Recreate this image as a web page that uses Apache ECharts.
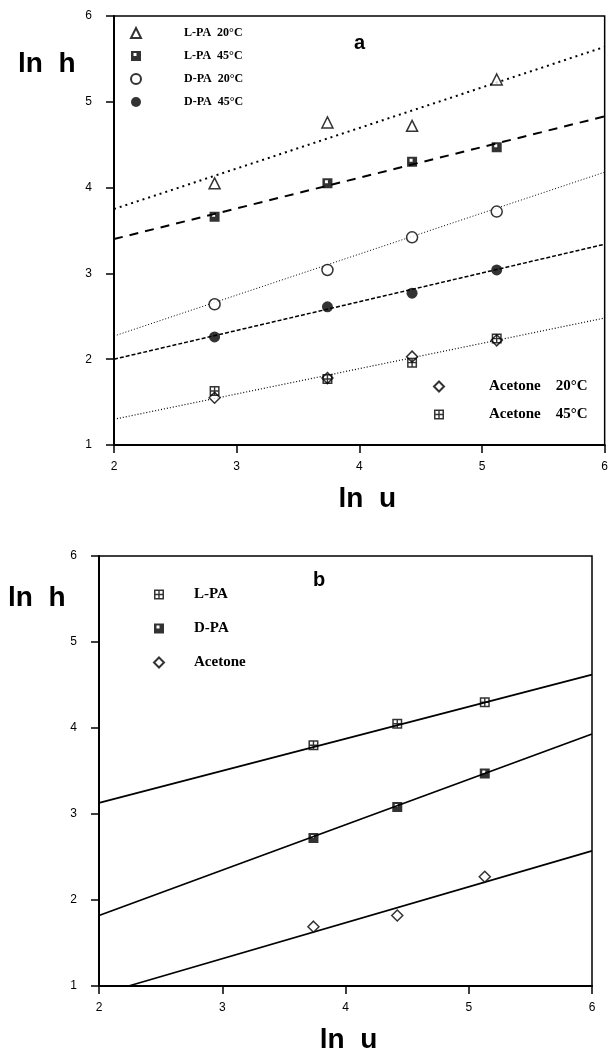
<!DOCTYPE html>
<html>
<head>
<meta charset="utf-8">
<script src="https://cdn.jsdelivr.net/npm/echarts@6/dist/echarts.min.js"></script>
<style>
  html, body { margin: 0; padding: 0; background: #fff; }
  #main { width: 611px; height: 1055px; }
</style>
</head>
<body>
<div id="main"></div>
<script>
// panel a: ln u and ln h readings
var lnU = [2.82, 3.74, 4.43, 5.12];
var lpa20 = [4.05, 4.76, 4.72, 5.26];
var lpa45 = [3.66, 4.05, 4.30, 4.47];
var dpa20 = [2.64, 3.04, 3.42, 3.72];
var dpa45 = [2.26, 2.61, 2.77, 3.04];
var ace20 = [1.55, 1.78, 2.03, 2.22];
var ace45 = [1.63, 1.77, 1.96, 2.24];
// fitted lines of panel a, value at ln u = 2 and ln u = 6
var fitX = [2, 6];
var lpa20Fit = [3.75, 5.64];
var lpa45Fit = [3.40, 4.83];
var dpa20Fit = [2.27, 4.18];
var dpa45Fit = [2.00, 3.34];
var aceFit = [1.30, 2.48];

// panel b
var lnUb = [3.74, 4.42, 5.13];
var lpaB = [3.80, 4.05, 4.30];
var dpaB = [2.72, 3.08, 3.47];
var aceB = [1.69, 1.82, 2.27];
var lpaBFitX = [2, 6];
var lpaBFit = [3.13, 4.62];
var dpaBFitX = [2, 6];
var dpaBFit = [1.82, 3.93];
var aceBFitX = [2.24, 6];
var aceBFit = [1.00, 2.57];

var xTicks = [2, 3, 4, 5, 6];
var yTicks = [1, 2, 3, 4, 5, 6];

function pairs(xs, ys) {
  var out = [];
  for (var i = 0; i < xs.length; i++) out.push([xs[i], ys[i]]);
  return out;
}

var squarePlus = 'path://M0,0H10V10H0Z M1.5,1.5V4.3H4.3V1.5Z M5.7,1.5V4.3H8.5V1.5Z M1.5,5.7V8.5H4.3V5.7Z M5.7,5.7V8.5H8.5V5.7Z';
var squareHalf = 'path://M0,0H10V10H0Z M2.5,2V5H5.5V2Z';

var openStyle = { color: '#fff', borderColor: '#000', borderWidth: 1.5 };
var fillStyle = { color: '#000' };

function marks(name, xs, ys, symbol, style, idx, size) {
  return {
    name: name, type: 'scatter', xAxisIndex: idx, yAxisIndex: idx,
    data: pairs(xs, ys), symbol: symbol, symbolSize: size || 10,
    itemStyle: style, z: 5
  };
}
function fit(xs, ys, idx, lineType, width) {
  return {
    type: 'line', xAxisIndex: idx, yAxisIndex: idx, data: pairs(xs, ys),
    symbol: 'none', silent: true, z: 2,
    lineStyle: { color: '#000', width: width, type: lineType }
  };
}

function xAxisOf(idx, shift) {
  return {
    gridIndex: idx, type: 'value', min: 2, max: 6, interval: 1,
    name: 'ln  u', nameLocation: 'middle', nameGap: 40,
    nameTextStyle: { fontSize: 28, fontWeight: 'bold', fontFamily: 'Liberation Sans', color: '#000',
      padding: [0, 0, 0, shift] },
    axisLine: { lineStyle: { color: '#000', width: 2 } },
    axisTick: { length: 8, lineStyle: { color: '#000', width: 1.5 } },
    axisLabel: { margin: 16, fontSize: 12, fontFamily: 'Liberation Sans', color: '#000',
      formatter: function (v) { return xTicks.indexOf(v) >= 0 ? String(v) : ''; } },
    splitLine: { show: false }
  };
}
function yAxisOf(idx) {
  return {
    gridIndex: idx, type: 'value', min: 1, max: 6, interval: 1,
    axisLine: { show: true, lineStyle: { color: '#000', width: 2 } },
    axisTick: { show: true, length: 8, lineStyle: { color: '#000', width: 1.5 } },
    axisLabel: { margin: 22, fontSize: 12, fontFamily: 'Liberation Sans', color: '#000',
      formatter: function (v) { return yTicks.indexOf(v) >= 0 ? String(v) : ''; } },
    splitLine: { show: false }
  };
}

var legendText = function (size, pad) {
  return { fontFamily: 'Liberation Serif', fontWeight: 'bold', fontSize: size, color: '#000', padding: [0, 0, 0, pad] };
};

var myChart = echarts.init(document.getElementById('main'));
var option = {
  backgroundColor: '#fff',
  animation: false,
  grid: [
    { left: 114, top: 16, width: 491, height: 429, show: true, borderColor: '#000', borderWidth: 1.5 },
    { left: 99, top: 556, width: 493, height: 431, show: true, borderColor: '#000', borderWidth: 1.5 }
  ],
  xAxis: [xAxisOf(0, 16), xAxisOf(1, 6)],
  yAxis: [yAxisOf(0), yAxisOf(1)],
  legend: [
    { orient: 'vertical', left: 130, top: 27, padding: 0, itemGap: 11, itemWidth: 10, itemHeight: 10,
      data: ['L-PA  20°C', 'L-PA  45°C', 'D-PA  20°C', 'D-PA  45°C'], textStyle: legendText(12, 38) },
    { orient: 'vertical', left: 433, top: 379, padding: 0, itemGap: 13, itemWidth: 10, itemHeight: 10,
      data: ['Acetone    20°C', 'Acetone    45°C'], textStyle: legendText(15, 40) },
    { orient: 'vertical', left: 153, top: 587, padding: 0, itemGap: 19, itemWidth: 10, itemHeight: 10,
      data: ['L-PA', 'D-PA', 'Acetone'], textStyle: legendText(15, 25) }
  ],
  graphic: [
    { type: 'text', left: 18, top: 50, style: { text: 'ln  h', font: 'bold 28px "Liberation Sans"', fill: '#000' } },
    { type: 'text', left: 8, top: 584, style: { text: 'ln  h', font: 'bold 28px "Liberation Sans"', fill: '#000' } },
    { type: 'text', left: 354, top: 33, style: { text: 'a', font: 'bold 20px "Liberation Sans"', fill: '#000' } },
    { type: 'text', left: 313, top: 570, style: { text: 'b', font: 'bold 20px "Liberation Sans"', fill: '#000' } }
  ],
  series: [
    fit(fitX, lpa20Fit, 0, [2, 4], 2),
    fit(fitX, lpa45Fit, 0, [9, 7], 2),
    fit(fitX, dpa20Fit, 0, [1, 2], 1),
    fit(fitX, dpa45Fit, 0, [4, 2], 1.5),
    fit(fitX, aceFit, 0, [1, 2], 1.2),
    marks('L-PA  20°C', lnU, lpa20, 'triangle', openStyle, 0, 11),
    marks('L-PA  45°C', lnU, lpa45, squareHalf, fillStyle, 0),
    marks('D-PA  20°C', lnU, dpa20, 'circle', openStyle, 0, 11),
    marks('D-PA  45°C', lnU, dpa45, 'circle', fillStyle, 0, 11),
    marks('Acetone    20°C', lnU, ace20, 'diamond', openStyle, 0, 11),
    marks('Acetone    45°C', lnU, ace45, squarePlus, fillStyle, 0),
    fit(lpaBFitX, lpaBFit, 1, 'solid', 1.8),
    fit(dpaBFitX, dpaBFit, 1, 'solid', 1.8),
    fit(aceBFitX, aceBFit, 1, 'solid', 1.8),
    marks('L-PA', lnUb, lpaB, squarePlus, fillStyle, 1),
    marks('D-PA', lnUb, dpaB, squareHalf, fillStyle, 1),
    marks('Acetone', lnUb, aceB, 'diamond', openStyle, 1, 11)
  ]
};
myChart.setOption(option);
</script>
</body>
</html>
